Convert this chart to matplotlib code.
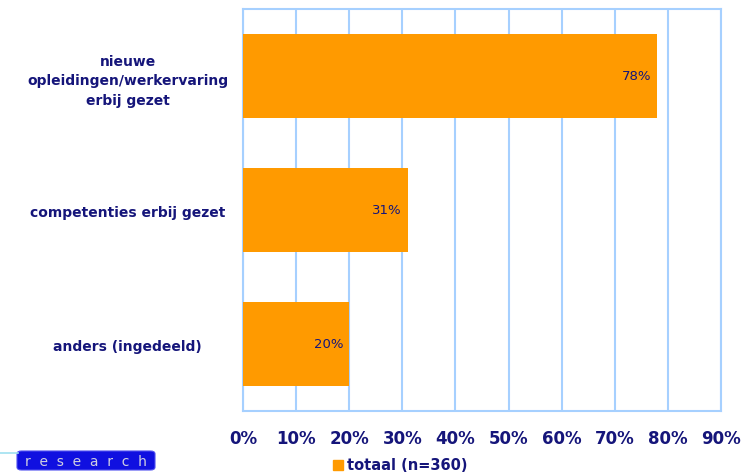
import matplotlib.pyplot as plt
from matplotlib.patches import FancyBboxPatch, Rectangle
from matplotlib.lines import Line2D

categories = [
    "nieuwe\nopleidingen/werkervaring\nerbij gezet",
    "competenties erbij gezet",
    "anders (ingedeeld)",
]
values = [78, 31, 20]
tick_values = [0, 10, 20, 30, 40, 50, 60, 70, 80, 90]
tick_labels = [f"{v}%" for v in tick_values]
legend_label = "totaal (n=360)"

NAVY = "#15157a"
ORANGE = "#ff9a00"
GRID = "#a6d0ff"

fig = plt.figure(figsize=(7.42, 4.77), dpi=100)
ax = fig.add_axes([243 / 742, 65 / 477, 478 / 742, 402 / 477])

ypos = list(range(len(categories)))
ax.barh(ypos, values, height=0.63, color=ORANGE, zorder=3)
ax.set_ylim(len(categories) - 0.5, -0.5)
ax.set_xlim(0, 90)

for y, v in zip(ypos, values):
    ax.annotate(f"{v}%", xy=(v, y), xytext=(-4, 0), textcoords="offset points",
                ha="right", va="center", fontsize=9.5, color=NAVY, zorder=4)

ax.set_xticks(tick_values)
ax.set_xticklabels(tick_labels, fontsize=12, fontweight="bold", color=NAVY)
ax.set_yticks(ypos)
ax.set_yticklabels(categories, fontsize=10, fontweight="bold", color=NAVY,
                   ha="center", linespacing=1.5)
ax.tick_params(axis="x", length=0, pad=13)
ax.tick_params(axis="y", length=0, pad=83)

ax.grid(axis="x", color=GRID, linewidth=1.5, zorder=0)
ax.grid(axis="y", visible=False)
for s in ax.spines.values():
    s.set_color(GRID)
    s.set_linewidth(1.5)

# legend
fig.patches.append(Rectangle((333 / 742, 1 - 471 / 477), 10 / 742, 10 / 477,
                             transform=fig.transFigure, color=ORANGE, figure=fig))
fig.text(347 / 742, 1 - 466 / 477, legend_label, fontsize=10.5, fontweight="bold",
         color=NAVY, ha="left", va="center")

# logo
fig.add_artist(Line2D([0, 18 / 742], [1 - 454 / 477] * 2, transform=fig.transFigure,
                      color="#9fe0f0", linewidth=1.2))
fig.patches.append(FancyBboxPatch((17 / 742, 1 - 471 / 477), 138 / 742, 19 / 477,
                                  boxstyle="round,pad=0,rounding_size=0.006",
                                  transform=fig.transFigure, facecolor="#1010e0",
                                  edgecolor="#5050f0", linewidth=0.8, figure=fig))
fig.text(86 / 742, 1 - 462 / 477, "r  e  s  e  a  r  c  h", fontsize=10,
         color="#d0d0e0", ha="center", va="center", family="DejaVu Sans")

fig.savefig("out.png", dpi=100)
